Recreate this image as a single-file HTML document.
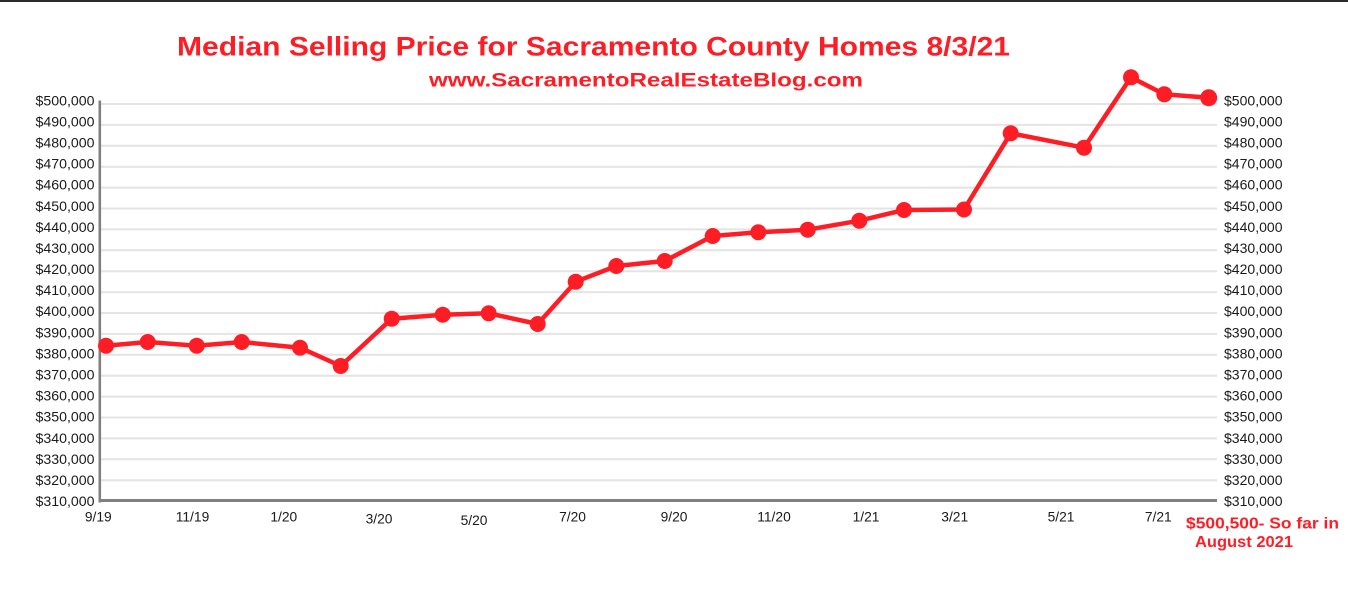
<!DOCTYPE html>
<html>
<head>
<meta charset="utf-8">
<style>
  html,body{margin:0;padding:0;background:#fff;}
  body{width:1348px;height:591px;overflow:hidden;}
  svg{display:block;}
  .lab{font-family:"Liberation Sans",Arial,sans-serif;font-size:13.8px;fill:#1a1a1a;}
  .red{font-family:"Liberation Sans",Arial,sans-serif;font-weight:bold;fill:#ff1d25;}
</style>
</head>
<body>
<svg width="1348" height="591" viewBox="0 0 1348 591" xmlns="http://www.w3.org/2000/svg">
  <rect x="0" y="0" width="1348" height="591" fill="#fff"/>
  <rect x="0" y="0" width="1348" height="2" fill="#2a2a2a"/>

  <!-- Title -->
  <text class="red" x="177" y="55.5" font-size="26.5" textLength="833" lengthAdjust="spacingAndGlyphs">Median Selling Price for Sacramento County Homes 8/3/21</text>
  <text class="red" x="429" y="86.5" font-size="19.8" textLength="434" lengthAdjust="spacingAndGlyphs">www.SacramentoRealEstateBlog.com</text>

  <!-- gridlines -->
  <g stroke="#e4e4e4" stroke-width="2">
    <line x1="101" y1="104" x2="1217" y2="104"/>
    <line x1="101" y1="124.9" x2="1217" y2="124.9"/>
    <line x1="101" y1="145.8" x2="1217" y2="145.8"/>
    <line x1="101" y1="166.7" x2="1217" y2="166.7"/>
    <line x1="101" y1="187.6" x2="1217" y2="187.6"/>
    <line x1="101" y1="208.5" x2="1217" y2="208.5"/>
    <line x1="101" y1="229.4" x2="1217" y2="229.4"/>
    <line x1="101" y1="250.3" x2="1217" y2="250.3"/>
    <line x1="101" y1="271.2" x2="1217" y2="271.2"/>
    <line x1="101" y1="292.1" x2="1217" y2="292.1"/>
    <line x1="101" y1="313" x2="1217" y2="313"/>
    <line x1="101" y1="333.9" x2="1217" y2="333.9"/>
    <line x1="101" y1="354.8" x2="1217" y2="354.8"/>
    <line x1="101" y1="375.7" x2="1217" y2="375.7"/>
    <line x1="101" y1="396.6" x2="1217" y2="396.6"/>
    <line x1="101" y1="417.5" x2="1217" y2="417.5"/>
    <line x1="101" y1="438.4" x2="1217" y2="438.4"/>
    <line x1="101" y1="459.3" x2="1217" y2="459.3"/>
    <line x1="101" y1="480.2" x2="1217" y2="480.2"/>
  </g>

  <!-- axes -->
  <rect x="98.5" y="100.5" width="2.6" height="402" fill="#808080"/>
  <rect x="98.5" y="499" width="1118.5" height="3" fill="#808080"/>

  <!-- left labels -->
  <g class="lab" text-anchor="end">
    <text x="94.5" y="105.3" textLength="59" lengthAdjust="spacingAndGlyphs">$500,000</text>
    <text x="94.5" y="126.4" textLength="59" lengthAdjust="spacingAndGlyphs">$490,000</text>
    <text x="94.5" y="147.5" textLength="59" lengthAdjust="spacingAndGlyphs">$480,000</text>
    <text x="94.5" y="168.6" textLength="59" lengthAdjust="spacingAndGlyphs">$470,000</text>
    <text x="94.5" y="189.7" textLength="59" lengthAdjust="spacingAndGlyphs">$460,000</text>
    <text x="94.5" y="210.8" textLength="59" lengthAdjust="spacingAndGlyphs">$450,000</text>
    <text x="94.5" y="231.8" textLength="59" lengthAdjust="spacingAndGlyphs">$440,000</text>
    <text x="94.5" y="252.9" textLength="59" lengthAdjust="spacingAndGlyphs">$430,000</text>
    <text x="94.5" y="274" textLength="59" lengthAdjust="spacingAndGlyphs">$420,000</text>
    <text x="94.5" y="295.1" textLength="59" lengthAdjust="spacingAndGlyphs">$410,000</text>
    <text x="94.5" y="316.2" textLength="59" lengthAdjust="spacingAndGlyphs">$400,000</text>
    <text x="94.5" y="337.3" textLength="59" lengthAdjust="spacingAndGlyphs">$390,000</text>
    <text x="94.5" y="358.4" textLength="59" lengthAdjust="spacingAndGlyphs">$380,000</text>
    <text x="94.5" y="379.5" textLength="59" lengthAdjust="spacingAndGlyphs">$370,000</text>
    <text x="94.5" y="400.6" textLength="59" lengthAdjust="spacingAndGlyphs">$360,000</text>
    <text x="94.5" y="421.7" textLength="59" lengthAdjust="spacingAndGlyphs">$350,000</text>
    <text x="94.5" y="442.8" textLength="59" lengthAdjust="spacingAndGlyphs">$340,000</text>
    <text x="94.5" y="463.8" textLength="59" lengthAdjust="spacingAndGlyphs">$330,000</text>
    <text x="94.5" y="484.9" textLength="59" lengthAdjust="spacingAndGlyphs">$320,000</text>
    <text x="94.5" y="506" textLength="59" lengthAdjust="spacingAndGlyphs">$310,000</text>
  </g>

  <!-- right labels -->
  <g class="lab">
    <text x="1224" y="105.3" textLength="58.5" lengthAdjust="spacingAndGlyphs">$500,000</text>
    <text x="1224" y="126.4" textLength="58.5" lengthAdjust="spacingAndGlyphs">$490,000</text>
    <text x="1224" y="147.5" textLength="58.5" lengthAdjust="spacingAndGlyphs">$480,000</text>
    <text x="1224" y="168.6" textLength="58.5" lengthAdjust="spacingAndGlyphs">$470,000</text>
    <text x="1224" y="189.7" textLength="58.5" lengthAdjust="spacingAndGlyphs">$460,000</text>
    <text x="1224" y="210.8" textLength="58.5" lengthAdjust="spacingAndGlyphs">$450,000</text>
    <text x="1224" y="231.8" textLength="58.5" lengthAdjust="spacingAndGlyphs">$440,000</text>
    <text x="1224" y="252.9" textLength="58.5" lengthAdjust="spacingAndGlyphs">$430,000</text>
    <text x="1224" y="274" textLength="58.5" lengthAdjust="spacingAndGlyphs">$420,000</text>
    <text x="1224" y="295.1" textLength="58.5" lengthAdjust="spacingAndGlyphs">$410,000</text>
    <text x="1224" y="316.2" textLength="58.5" lengthAdjust="spacingAndGlyphs">$400,000</text>
    <text x="1224" y="337.3" textLength="58.5" lengthAdjust="spacingAndGlyphs">$390,000</text>
    <text x="1224" y="358.4" textLength="58.5" lengthAdjust="spacingAndGlyphs">$380,000</text>
    <text x="1224" y="379.5" textLength="58.5" lengthAdjust="spacingAndGlyphs">$370,000</text>
    <text x="1224" y="400.6" textLength="58.5" lengthAdjust="spacingAndGlyphs">$360,000</text>
    <text x="1224" y="421.7" textLength="58.5" lengthAdjust="spacingAndGlyphs">$350,000</text>
    <text x="1224" y="442.8" textLength="58.5" lengthAdjust="spacingAndGlyphs">$340,000</text>
    <text x="1224" y="463.8" textLength="58.5" lengthAdjust="spacingAndGlyphs">$330,000</text>
    <text x="1224" y="484.9" textLength="58.5" lengthAdjust="spacingAndGlyphs">$320,000</text>
    <text x="1224" y="506" textLength="58.5" lengthAdjust="spacingAndGlyphs">$310,000</text>
  </g>

  <!-- x labels -->
  <g class="lab" text-anchor="middle">
    <text x="98.3" y="521.5">9/19</text>
    <text x="192.5" y="521.5">11/19</text>
    <text x="283.8" y="521.5">1/20</text>
    <text x="379" y="523.5">3/20</text>
    <text x="474" y="525">5/20</text>
    <text x="572.5" y="521.5">7/20</text>
    <text x="674" y="521.5">9/20</text>
    <text x="774" y="521.5">11/20</text>
    <text x="866" y="521.5">1/21</text>
    <text x="954.7" y="521.5">3/21</text>
    <text x="1061" y="521.5">5/21</text>
    <text x="1158.3" y="521.5">7/21</text>
  </g>

  <!-- annotation -->
  <text class="red" x="1186" y="528.5" font-size="16" textLength="153" lengthAdjust="spacingAndGlyphs">$500,500- So far in</text>
  <text class="red" x="1195" y="547" font-size="16" textLength="98" lengthAdjust="spacingAndGlyphs">August 2021</text>

  <!-- series -->
  <polyline fill="none" stroke="#ff1d25" stroke-width="4.5" stroke-linejoin="round" stroke-linecap="round"
    points="106,345.7 147.7,342 196.7,345.7 241.7,342 300,347.7 340.7,366 391.7,318.7 442.7,314.7 488.7,313.3 537.7,324 575.7,281.7 616.3,266 664.7,261 712.7,236 758.3,232.3 807.7,229.7 859.3,220.7 904,210 964,209.5 1010.7,133.3 1084,147.7 1131,77.3 1164.3,94.3 1208.7,97.7"/>
  <g fill="#ff1d25">
    <circle cx="106" cy="345.7" r="8"/>
    <circle cx="147.7" cy="342" r="8"/>
    <circle cx="196.7" cy="345.7" r="8"/>
    <circle cx="241.7" cy="342" r="8"/>
    <circle cx="300" cy="347.7" r="8"/>
    <circle cx="340.7" cy="366" r="8"/>
    <circle cx="391.7" cy="318.7" r="8"/>
    <circle cx="442.7" cy="314.7" r="8"/>
    <circle cx="488.7" cy="313.3" r="8"/>
    <circle cx="537.7" cy="324" r="8"/>
    <circle cx="575.7" cy="281.7" r="8"/>
    <circle cx="616.3" cy="266" r="8"/>
    <circle cx="664.7" cy="261" r="8"/>
    <circle cx="712.7" cy="236" r="8"/>
    <circle cx="758.3" cy="232.3" r="8"/>
    <circle cx="807.7" cy="229.7" r="8"/>
    <circle cx="859.3" cy="220.7" r="8"/>
    <circle cx="904" cy="210" r="8"/>
    <circle cx="964" cy="209.5" r="8"/>
    <circle cx="1010.7" cy="133.3" r="8"/>
    <circle cx="1084" cy="147.7" r="8"/>
    <circle cx="1131" cy="77.3" r="8"/>
    <circle cx="1164.3" cy="94.3" r="8"/>
    <circle cx="1208.7" cy="97.7" r="8.5"/>
  </g>
</svg>
</body>
</html>
